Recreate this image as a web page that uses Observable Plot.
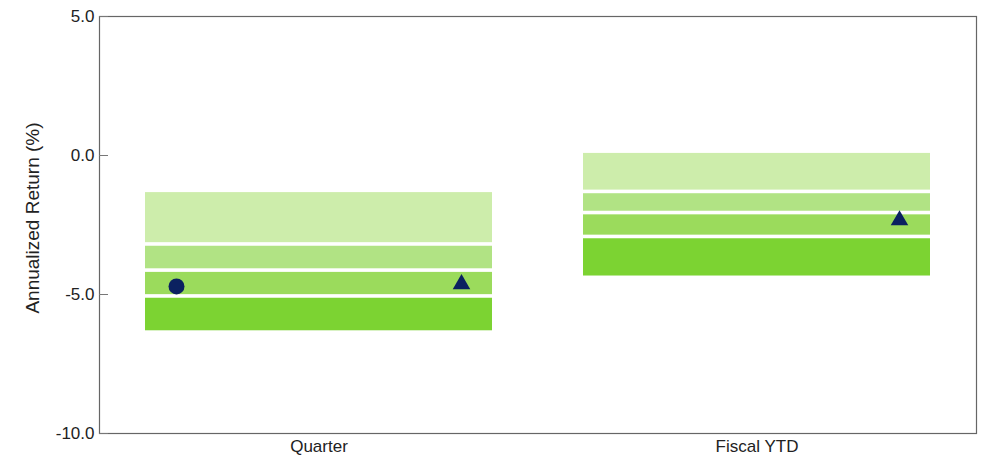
<!DOCTYPE html>
<html>
<head>
<meta charset="utf-8">
<script src="https://cdn.jsdelivr.net/npm/d3@7"></script>
<script src="https://cdn.jsdelivr.net/npm/@observablehq/plot@0.6"></script>
<style>
  html, body { margin: 0; padding: 0; background: #fff; }
  #chart svg { display: block; }
</style>
</head>
<body>
<div id="chart"></div>
<script>
const categories = ["Quarter", "Fiscal YTD"];
// Band edges (annualized return %), top to bottom
const edgeTop    = [-1.27, 0.14];
const edge25     = [-3.20, -1.31];
const edgeMedian = [-4.14, -2.07];
const edge75     = [-5.07, -2.93];
const edgeBottom = [-6.37, -4.40];
// Markers
const circleValues   = [-4.71, null];
const triangleValues = [-4.63, -2.33];
const yTicks = [5, 0, -5, -10];

const bandNames = ["b1", "b2", "b3", "b4"];
const bandColors = ["#cdedab", "#b1e384", "#9bdb5c", "#7cd332"];

const bands = [];
categories.forEach((c, i) => {
  const e = [edgeTop[i], edge25[i], edgeMedian[i], edge75[i], edgeBottom[i]];
  for (let k = 0; k < 4; k++) bands.push({cat: c, y1: e[k], y2: e[k + 1], band: bandNames[k]});
});
const circles = categories.map((c, i) => ({cat: c, v: circleValues[i]})).filter(d => d.v != null);
const triangles = categories.map((c, i) => ({cat: c, v: triangleValues[i]})).filter(d => d.v != null);

const navy = "#0b2160";
const font = "'Liberation Sans', Arial, sans-serif";

const chart = Plot.plot({
  width: 982,
  height: 460,
  marginLeft: 99,
  marginRight: 6,
  marginTop: 16,
  marginBottom: 27,
  style: {fontFamily: font, fontSize: "17px", color: "#222", background: "#fff"},
  x: {type: "band", domain: categories, paddingInner: 0.207, paddingOuter: 0.1025, label: null},
  y: {domain: [-10, 5], label: null},
  color: {type: "ordinal", domain: bandNames, range: bandColors, legend: false},
  marks: [
    Plot.barY(bands, {x: "cat", y1: "y1", y2: "y2", fill: "band", insetTop: 1.8, insetBottom: 1.8}),
    Plot.dot(circles, {x: "cat", y: "v", dx: -142.5, r: 8, fill: navy, symbol: "circle"}),
    Plot.dot(triangles, {x: "cat", y: "v", dx: 142.5, r: 6.5, fill: navy, symbol: "triangle"}),
    Plot.frame({stroke: "#666", strokeWidth: 1.2}),
    Plot.axisY({ticks: yTicks, tickSize: -9, tickPadding: 14, stroke: "#777", tickFormat: d => d.toFixed(1), fontSize: 17, label: null}),
    Plot.axisX({tickSize: 0, tickPadding: 6, fontSize: 17, label: null}),
    Plot.text(["Annualized Return (%)"], {frameAnchor: "left", textAnchor: "middle", dx: -67, dy: -7, rotate: -90, fontSize: 19, fill: "#222"})
  ]
});
document.getElementById("chart").appendChild(chart);
</script>
</body>
</html>
